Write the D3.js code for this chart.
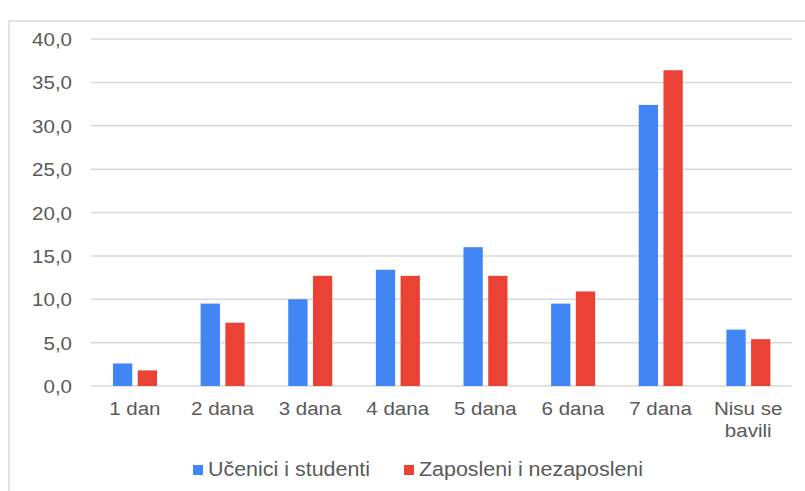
<!DOCTYPE html>
<html>
<head>
<meta charset="utf-8">
<script src="https://cdnjs.cloudflare.com/ajax/libs/d3/7.8.5/d3.min.js"></script>
<style>
  body { margin: 0; background: #fff; }
  svg { display: block; font-family: "Liberation Sans", Arial, sans-serif; }
</style>
</head>
<body>
<div id="chart"></div>
<script>
const categories = ['1 dan', '2 dana', '3 dana', '4 dana', '5 dana', '6 dana', '7 dana', 'Nisu se\nbavili'];
const seriesNames = ['Učenici i studenti', 'Zaposleni i nezaposleni'];
const ucenici = [2.6, 9.5, 10.0, 13.4, 16.0, 9.5, 32.4, 6.5];
const zaposleni = [1.8, 7.3, 12.7, 12.7, 12.7, 10.9, 36.4, 5.4];
const yTicks = [0, 5, 10, 15, 20, 25, 30, 35, 40];
const colors = ['#4285f4', '#ea4335'];

const width = 805, height = 491;
const textColor = '#595959';
const gridColor = '#d9d9d9';
const fontSize = 19;
const stretch = 1.08; // text in the picture is a bit wider than tall

const svg = d3.select('#chart').append('svg')
    .attr('width', width)
    .attr('height', height);

// outer frame, runs off the right and bottom edge
svg.append('rect')
    .attr('x', 9).attr('y', 21)
    .attr('width', 820).attr('height', 500)
    .attr('fill', 'none')
    .attr('stroke', gridColor)
    .attr('stroke-width', 1.5);

const x0 = d3.scaleBand().domain(categories).range([91, 792]);
const x1 = d3.scaleBand().domain(seriesNames).range([22, 66]).paddingInner(0.22);
const y = d3.scaleLinear().domain([0, 40]).range([386, 39]);
const fmt = v => d3.format('.1f')(v).replace('.', ',');

function label(g, x, yPos, txt, anchor, size = fontSize, sx = stretch) {
    g.append('text')
        .attr('transform', `translate(${x},${yPos}) scale(${sx},1)`)
        .attr('text-anchor', anchor)
        .attr('fill', textColor)
        .style('font-size', size + 'px')
        .text(txt);
}

// grid + y labels
const grid = svg.append('g');
grid.selectAll('line')
    .data(yTicks)
    .join('line')
    .attr('x1', 91).attr('x2', 792)
    .attr('y1', d => y(d)).attr('y2', d => y(d))
    .attr('stroke', gridColor)
    .attr('stroke-width', 1.5);

const yLab = svg.append('g');
yTicks.forEach(t => label(yLab, 72, y(t) + 7, fmt(t), 'end'));

// bars
const data = categories.map((c, i) => ({ cat: c, vals: [ucenici[i], zaposleni[i]] }));
const groups = svg.append('g')
    .selectAll('g')
    .data(data)
    .join('g')
    .attr('transform', d => `translate(${x0(d.cat)},0)`);

groups.selectAll('rect')
    .data(d => d.vals.map((v, j) => ({ name: seriesNames[j], v, j })))
    .join('rect')
    .attr('x', d => x1(d.name))
    .attr('width', x1.bandwidth())
    .attr('y', d => y(d.v))
    .attr('height', d => y(0) - y(d.v))
    .attr('fill', d => colors[d.j]);

// x labels
const xLab = svg.append('g');
categories.forEach(c => {
    const cx = x0(c) + x0.bandwidth() / 2;
    c.split('\n').forEach((line, k) => label(xLab, cx, 415 + k * 22, line, 'middle'));
});

// legend
const legend = svg.append('g');
const legendX = [193, 404];
seriesNames.forEach((name, j) => {
    legend.append('rect')
        .attr('x', legendX[j]).attr('y', 465)
        .attr('width', 10).attr('height', 10)
        .attr('fill', colors[j]);
    label(legend, legendX[j] + 15, 476, name, 'start', 19.5, 1.1);
});
</script>
</body>
</html>
